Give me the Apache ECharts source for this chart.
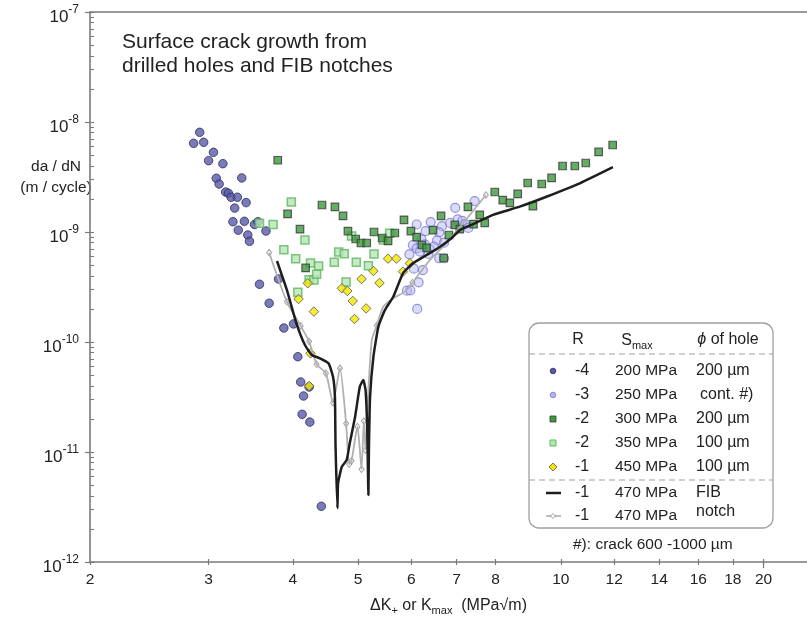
<!DOCTYPE html>
<html><head><meta charset="utf-8">
<script src="https://cdn.jsdelivr.net/npm/echarts@6/dist/echarts.min.js"></script>
<style>html,body{margin:0;padding:0;background:#fff}#c{width:807px;height:618px}</style>
</head><body><div id="c"></div>
<script>
// ---------- axis ticks ----------
const xTicks = [2, 3, 4, 5, 6, 7, 8, 10, 12, 14, 16, 18, 20];
const yTicks = [1e-12, 1e-11, 1e-10, 1e-9, 1e-8, 1e-7];
const yMinorMantissa = [2, 3, 4, 5, 6, 7, 8, 9];

// ---------- data: [ΔK (MPa√m), da/dN (m/cycle)] ----------
// R = -4, Smax 200 MPa, hole 200 µm
const r4s200 = [[2.91,8.06e-9],[2.85,6.40e-9],[2.95,6.54e-9],[3.05,5.30e-9],[3.00,4.45e-9],[3.15,4.18e-9],[3.08,3.08e-9],[3.11,2.73e-9],[3.36,3.10e-9],[3.18,2.31e-9],[3.21,2.25e-9],[3.24,2.07e-9],[3.31,2.07e-9],[3.41,1.85e-9],[3.28,1.65e-9],[3.26,1.24e-9],[3.39,1.25e-9],[3.32,1.04e-9],[3.51,1.17e-9],[3.55,1.24e-9],[3.43,9.39e-10],[3.45,8.23e-10],[3.65,1.02e-9],[3.57,3.35e-10],[3.81,3.74e-10],[3.69,2.25e-10],[3.88,1.34e-10],[4.01,1.46e-10],[4.07,7.35e-11],[4.11,4.33e-11],[4.15,3.23e-11],[4.23,3.90e-11],[4.13,2.20e-11],[4.24,1.87e-11],[4.41,3.21e-12]];
// R = -3, Smax 250 MPa, cont. #)
const r3s250 = [[7.45,1.91e-9],[6.97,1.66e-9],[6.11,1.17e-9],[6.41,1.23e-9],[6.66,1.13e-9],[6.85,1.21e-9],[7.03,1.30e-9],[7.14,1.26e-9],[7.21,1.18e-9],[7.29,1.09e-9],[6.30,1.02e-9],[6.60,9.94e-10],[6.21,8.58e-10],[6.55,8.40e-10],[6.71,8.0e-10],[6.03,7.62e-10],[6.11,7.11e-10],[6.28,7.73e-10],[6.39,6.96e-10],[6.48,7.35e-10],[6.18,6.62e-10],[6.36,6.31e-10],[5.96,6.27e-10],[6.60,5.77e-10],[6.05,4.64e-10],[6.24,4.51e-10],[6.15,3.49e-10],[5.91,2.93e-10],[5.98,2.95e-10],[6.12,2.0e-10],[6.71,5.77e-10]];
// R = -2, Smax 300 MPa, hole 200 µm
const r2s300 = [[3.80,4.49e-9],[3.93,1.46e-9],[4.10,1.06e-9],[4.18,4.71e-10],[4.42,1.76e-9],[4.62,1.69e-9],[4.75,1.40e-9],[4.83,1.02e-9],[4.96,8.64e-10],[5.05,7.94e-10],[5.15,7.94e-10],[5.28,1.0e-9],[5.43,8.82e-10],[5.54,8.29e-10],[5.67,9.79e-10],[5.85,1.29e-9],[5.99,1.02e-9],[6.11,9.0e-10],[6.22,7.62e-10],[6.32,7.16e-10],[6.46,1.04e-9],[6.64,1.40e-9],[6.82,9.39e-10],[6.96,1.16e-9],[7.08,1.06e-9],[7.28,1.69e-9],[7.42,1.18e-9],[7.58,1.43e-9],[7.71,1.21e-9],[6.70,5.80e-10],[7.98,2.31e-9],[8.20,1.95e-9],[8.40,1.84e-9],[8.63,2.22e-9],[8.93,2.79e-9],[9.09,1.72e-9],[9.37,2.73e-9],[9.69,3.10e-9],[10.06,3.98e-9],[10.49,3.98e-9],[10.89,4.24e-9],[11.38,5.34e-9],[11.94,6.18e-9]];
// R = -2, Smax 350 MPa, hole 100 µm
const r2s350 = [[3.98,1.87e-9],[3.74,1.17e-9],[3.57,1.20e-9],[4.17,8.46e-10],[3.88,6.90e-10],[4.04,5.72e-10],[4.25,5.23e-10],[4.37,4.91e-10],[4.61,5.30e-10],[4.68,6.58e-10],[4.77,6.35e-10],[4.97,5.30e-10],[5.28,6.31e-10],[5.18,4.94e-10],[4.80,3.51e-10],[4.23,3.68e-10],[4.30,3.66e-10],[4.34,4.13e-10],[4.07,2.83e-10],[4.89,9.2e-10],[5.45,8.46e-10],[5.57,9.73e-10]];
// R = -1, Smax 450 MPa, hole 100 µm
const r1s450 = [[4.21,3.42e-10],[4.08,2.46e-10],[4.30,1.89e-10],[4.25,7.89e-11],[4.23,3.98e-11],[4.73,3.08e-10],[4.82,2.91e-10],[5.06,3.74e-10],[5.27,4.42e-10],[5.38,3.44e-10],[4.91,2.36e-10],[5.14,2.02e-10],[4.94,1.62e-10],[5.54,5.72e-10],[5.70,5.72e-10],[5.97,5.19e-10],[5.83,4.36e-10]];
// R = -1, Smax 470 MPa, FIB notch (curve 1)
const fibCurveA = [[3.79,5.45e-10],[3.92,2.97e-10],[4.05,1.48e-10],[4.17,9.39e-11],[4.27,7.62e-11],[4.39,7.11e-11],[4.52,6.40e-11],[4.59,4.83e-11],[4.62,3.18e-11],[4.63,1.12e-11],[4.66,3.08e-12],[4.67,5.19e-12],[4.73,7.35e-12],[4.81,8.46e-12],[4.86,1.20e-11],[4.95,2.09e-11],[5.03,3.92e-11],[5.09,4.51e-11],[5.13,3.66e-11],[5.16,1.58e-11],[5.18,4.06e-12],[5.19,1.12e-11],[5.21,3.18e-11],[5.27,7.35e-11],[5.36,1.38e-10],[5.48,1.95e-10],[5.64,2.58e-10],[5.83,4.21e-10],[6.03,5.19e-10],[6.32,6.18e-10],[6.57,7.11e-10],[6.88,8.77e-10],[7.08,1.04e-9],[7.41,1.18e-9],[7.93,1.43e-9],[8.69,1.70e-9],[9.52,2.09e-9],[10.67,2.77e-9],[11.95,3.88e-9]];
// R = -1, Smax 470 MPa, FIB notch (curve 2): trace and measured points
const fibCurveBTrace = [[3.69,6.48e-10],[3.92,2.32e-10],[4.11,1.40e-10],[4.23,1.01e-10],[4.34,6.27e-11],[4.48,5.19e-11],[4.59,2.81e-11],[4.70,5.77e-11],[4.80,1.82e-11],[4.85,7.73e-12],[4.89,8.33e-12],[4.99,1.70e-11],[5.06,6.96e-12],[5.10,1.91e-11],[5.13,1.04e-11],[5.17,2.97e-11],[5.24,1.04e-10],[5.33,1.41e-10],[5.45,2.09e-10],[5.64,2.50e-10],[5.87,2.87e-10],[6.02,3.46e-10],[6.39,5.56e-10],[6.76,7.89e-10],[7.16,1.20e-9],[7.74,2.17e-9]];
const fibCurveBPoints = [[3.69,6.48e-10],[3.92,2.32e-10],[4.11,1.40e-10],[4.23,1.01e-10],[4.34,6.27e-11],[4.48,5.19e-11],[4.59,2.81e-11],[4.70,5.77e-11],[4.80,1.82e-11],[4.85,7.73e-12],[4.89,8.33e-12],[4.99,1.70e-11],[5.06,6.96e-12],[5.10,1.91e-11],[5.13,1.04e-11],[5.33,1.41e-10],[6.02,3.46e-10],[7.74,2.17e-9]];

// ---------- legend table text ----------
const legendR = ['-4', '-3', '-2', '-2', '-1', '-1', '-1'];
const legendSmax = ['200 MPa', '250 MPa', '300 MPa', '350 MPa', '450 MPa', '470 MPa', '470 MPa'];
const legendHole = ['200 µm', 'cont. #)', '200 µm', '100 µm', '100 µm'];
const legendFib = ['FIB', 'notch'];
const titleLines = ['Surface crack growth from', 'drilled holes and FIB notches'];
const yNameLines = ['da / dN', '(m / cycle)'];
const footnote = '#): crack 600 -1000 µm';

// ---------- styling ----------
const FONT = '"Liberation Sans", Arial, Helvetica, sans-serif';
const AX = '#7a7a7a';
const TXT = '#222';
const X_MIN = 2, X_MAX = 23.2, Y_MIN = 1e-12, Y_MAX = 1e-7;
const GRID = { left: 90, right: 0, top: 12, bottom: 56, containLabel: false, outerBoundsMode: 'none' };

const C = {
  dblue: { color: '#5a5aa8', borderColor: '#2c2c5c', borderWidth: 1 },
  lblue: { color: 'rgba(182,182,240,0.6)', borderColor: 'rgba(112,112,210,0.9)', borderWidth: 1.2 },
  dgreen: { color: '#3d9a3d', borderColor: '#383838', borderWidth: 1.2 },
  lgreen: { color: '#b8e4b8', borderColor: '#5cb85c', borderWidth: 1.5 },
  yellow: { color: '#f4e600', borderColor: '#555', borderWidth: 1 }
};

const yMinor = [];
yTicks.slice(0, -1).forEach(d => yMinorMantissa.forEach(m => yMinor.push(+(m * d).toPrecision(3))));

function xLog(extra) { return Object.assign({ type: 'log', logBase: 10, min: X_MIN, max: X_MAX, splitLine: { show: false }, minorTick: { show: false } }, extra); }
function yLog(extra) { return Object.assign({ type: 'log', logBase: 10, min: Y_MIN, max: Y_MAX, splitLine: { show: false }, minorTick: { show: false } }, extra); }

function txt(x, y, text, align, extra) {
  return {
    type: 'text', x: x, y: y, silent: true,
    style: Object.assign({
      text: text, fill: TXT, fontSize: 15, fontFamily: FONT,
      align: align, textAlign: align, verticalAlign: 'middle', textVerticalAlign: 'middle'
    }, extra || {})
  };
}
const subRich = { sub: { fontSize: 11, fontFamily: FONT, fill: TXT, color: TXT, lineHeight: 11, verticalAlign: 'bottom' } };

// ---------- graphic (title, axis name, legend table) ----------
const graphic = [];
titleLines.forEach((t, i) => graphic.push(txt(122, 42 + i * 24, t, 'left', { fontSize: 21 })));
yNameLines.forEach((t, i) => graphic.push(txt(56, 167 + i * 21, t, 'center', { fontSize: 15.5 })));

// legend box
graphic.push({ type: 'rect', silent: true, z: 10, shape: { x: 529, y: 323, width: 244, height: 205, r: 10 }, style: { fill: '#fff', stroke: '#a0a0a0', lineWidth: 1.3 } });
graphic.push({ type: 'line', silent: true, z: 11, shape: { x1: 529, y1: 354, x2: 773, y2: 354 }, style: { stroke: '#a0a0a0', lineWidth: 1.2, lineDash: [6, 4] } });
graphic.push({ type: 'line', silent: true, z: 11, shape: { x1: 529, y1: 480, x2: 773, y2: 480 }, style: { stroke: '#a0a0a0', lineWidth: 1.2, lineDash: [6, 4] } });

const hdr = [
  txt(578, 340, 'R', 'center', { fontSize: 16 }),
  txt(637, 341, 'S{sub|max}', 'center', { fontSize: 16, lineHeight: 20, rich: subRich }),
  txt(728, 340, '{i|ϕ} of hole', 'center', { fontSize: 16, rich: { i: { fontSize: 16, fontFamily: FONT, fontStyle: 'italic', fill: TXT, color: TXT } } })
];
hdr.forEach(h => { h.z = 12; graphic.push(h); });

const rowY = [371, 395, 419, 443, 467, 493, 516];
legendR.forEach((r, i) => { const e = txt(582, rowY[i], r, 'center', { fontSize: 16 }); e.z = 12; graphic.push(e); });
legendSmax.forEach((s, i) => { const e = txt(646, rowY[i], s, 'center', { fontSize: 15.5 }); e.z = 12; graphic.push(e); });
legendHole.forEach((s, i) => { const e = txt(i === 1 ? 700 : 696, rowY[i], s, 'left', { fontSize: 16 }); e.z = 12; graphic.push(e); });
legendFib.forEach((s, i) => { const e = txt(696, 493 + i * 19, s, 'left', { fontSize: 16 }); e.z = 12; graphic.push(e); });
graphic.push(txt(573, 545, footnote, 'left', { fontSize: 15.5 }));

// legend symbols
const SX = 553;
graphic.push({ type: 'circle', z: 12, silent: true, shape: { cx: SX, cy: rowY[0], r: 2.8 }, style: { fill: C.dblue.color, stroke: C.dblue.borderColor, lineWidth: 0.8 } });
graphic.push({ type: 'circle', z: 12, silent: true, shape: { cx: SX, cy: rowY[1], r: 2.8 }, style: { fill: '#b4b4f0', stroke: '#7878d0', lineWidth: 0.8 } });
graphic.push({ type: 'rect', z: 12, silent: true, shape: { x: SX - 3, y: rowY[2] - 3, width: 6, height: 6 }, style: { fill: C.dgreen.color, stroke: C.dgreen.borderColor, lineWidth: 0.8 } });
graphic.push({ type: 'rect', z: 12, silent: true, shape: { x: SX - 3, y: rowY[3] - 3, width: 6, height: 6 }, style: { fill: C.lgreen.color, stroke: C.lgreen.borderColor, lineWidth: 1 } });
graphic.push({ type: 'polygon', z: 12, silent: true, shape: { points: [[SX, rowY[4] - 4], [SX + 4, rowY[4]], [SX, rowY[4] + 4], [SX - 4, rowY[4]]] }, style: { fill: C.yellow.color, stroke: '#555', lineWidth: 0.8 } });
graphic.push({ type: 'line', z: 12, silent: true, shape: { x1: SX - 7, y1: rowY[5], x2: SX + 8, y2: rowY[5] }, style: { stroke: '#1e1e1e', lineWidth: 2.5 } });
graphic.push({ type: 'line', z: 12, silent: true, shape: { x1: SX - 7, y1: rowY[6], x2: SX + 8, y2: rowY[6] }, style: { stroke: '#aaa', lineWidth: 1.5 } });
graphic.push({ type: 'polygon', z: 13, silent: true, shape: { points: [[SX, rowY[6] - 2.5], [SX + 2.5, rowY[6]], [SX, rowY[6] + 2.5], [SX - 2.5, rowY[6]]] }, style: { fill: '#fff', stroke: '#888', lineWidth: 0.8 } });

// ---------- chart ----------
const chart = echarts.init(document.getElementById('c'), null, { renderer: 'canvas' });
const sc = (name, data, symbol, size, style) => ({
  name: name, type: 'scatter', xAxisIndex: 0, yAxisIndex: 0, data: data,
  symbol: symbol, symbolSize: size, itemStyle: style, emphasis: { disabled: true }, silent: true
});

chart.setOption({
  animation: false,
  backgroundColor: '#fff',
  textStyle: { fontFamily: FONT },
  grid: [Object.assign({}, GRID), Object.assign({}, GRID), Object.assign({}, GRID)],
  xAxis: [
    xLog({
      gridIndex: 0, position: 'bottom',
      axisLine: { show: true, lineStyle: { color: AX, width: 1.6 } },
      axisTick: { show: true, inside: false, length: 3, customValues: xTicks, lineStyle: { color: AX, width: 1.2 } },
      axisLabel: { show: true, customValues: xTicks, formatter: v => String(Math.round(v)), fontSize: 15.5, color: TXT, fontFamily: FONT, margin: 10 },
      name: 'ΔK{sub|+} or K{sub|max}  (MPa√m)', nameLocation: 'middle', nameGap: 34,
      nameTextStyle: { fontSize: 16, color: TXT, fontFamily: FONT, lineHeight: 20, rich: { sub: { fontSize: 11, color: TXT, fontFamily: FONT, lineHeight: 11, verticalAlign: 'bottom' } } }
    }),
    xLog({ gridIndex: 0, position: 'top', axisLine: { show: true, lineStyle: { color: AX, width: 1.6 } }, axisTick: { show: false }, axisLabel: { show: false } }),
    xLog({ gridIndex: 1, position: 'bottom', axisLine: { show: false }, axisTick: { show: true, inside: true, length: 3, customValues: xTicks.slice(1), lineStyle: { color: AX, width: 1.2 } }, axisLabel: { show: false } }),
    xLog({ gridIndex: 2, position: 'bottom', axisLine: { show: false }, axisTick: { show: true, inside: false, length: 6, customValues: [20], lineStyle: { color: AX, width: 1.2 } }, axisLabel: { show: false } })
  ],
  yAxis: [
    yLog({
      gridIndex: 0, position: 'left',
      axisLine: { show: true, lineStyle: { color: AX, width: 1.6 } },
      axisTick: { show: true, inside: false, length: 5, customValues: yTicks, lineStyle: { color: AX, width: 1.2 } },
      axisLabel: {
        show: true, customValues: yTicks, margin: 11, padding: [5, 0, 0, 0],
        formatter: v => '{b|10}{s|' + Math.round(Math.log10(v)) + '}',
        rich: {
          b: { fontSize: 17, color: TXT, fontFamily: FONT, lineHeight: 22, verticalAlign: 'bottom' },
          s: { fontSize: 12, color: TXT, fontFamily: FONT, lineHeight: 16, verticalAlign: 'top' }
        }
      }
    }),
    yLog({ gridIndex: 1, position: 'left', axisLine: { show: false }, axisTick: { show: true, inside: true, length: 4, customValues: yMinor.concat(yTicks), lineStyle: { color: AX, width: 1.1 } }, axisLabel: { show: false } }),
    yLog({ gridIndex: 2, show: false })
  ],
  graphic: graphic,
  series: [
    sc('R=-4, 200 MPa', r4s200, 'circle', 8.5, C.dblue),
    sc('R=-2, 350 MPa', r2s350, 'rect', 8, C.lgreen),
    sc('R=-3, 250 MPa', r3s250, 'circle', 9, C.lblue),
    sc('R=-2, 300 MPa', r2s300, 'rect', 7.5, C.dgreen),
    {
      name: 'FIB notch B', type: 'line', xAxisIndex: 0, yAxisIndex: 0, data: fibCurveBTrace,
      showSymbol: false, smooth: 0.2, lineStyle: { color: '#b0b0b0', width: 1.8 }, emphasis: { disabled: true }, silent: true
    },
    sc('FIB notch B points', fibCurveBPoints, 'diamond', [5, 6.5], { color: '#fff', borderColor: '#888', borderWidth: 1 }),
    {
      name: 'FIB notch A', type: 'line', xAxisIndex: 0, yAxisIndex: 0, data: fibCurveA,
      showSymbol: false, smooth: 0.15, lineStyle: { color: '#1e1e1e', width: 2.5 }, emphasis: { disabled: true }, silent: true
    },
    sc('R=-1, 450 MPa', r1s450, 'diamond', 9.5, C.yellow)
  ]
});
</script>
</body></html>
